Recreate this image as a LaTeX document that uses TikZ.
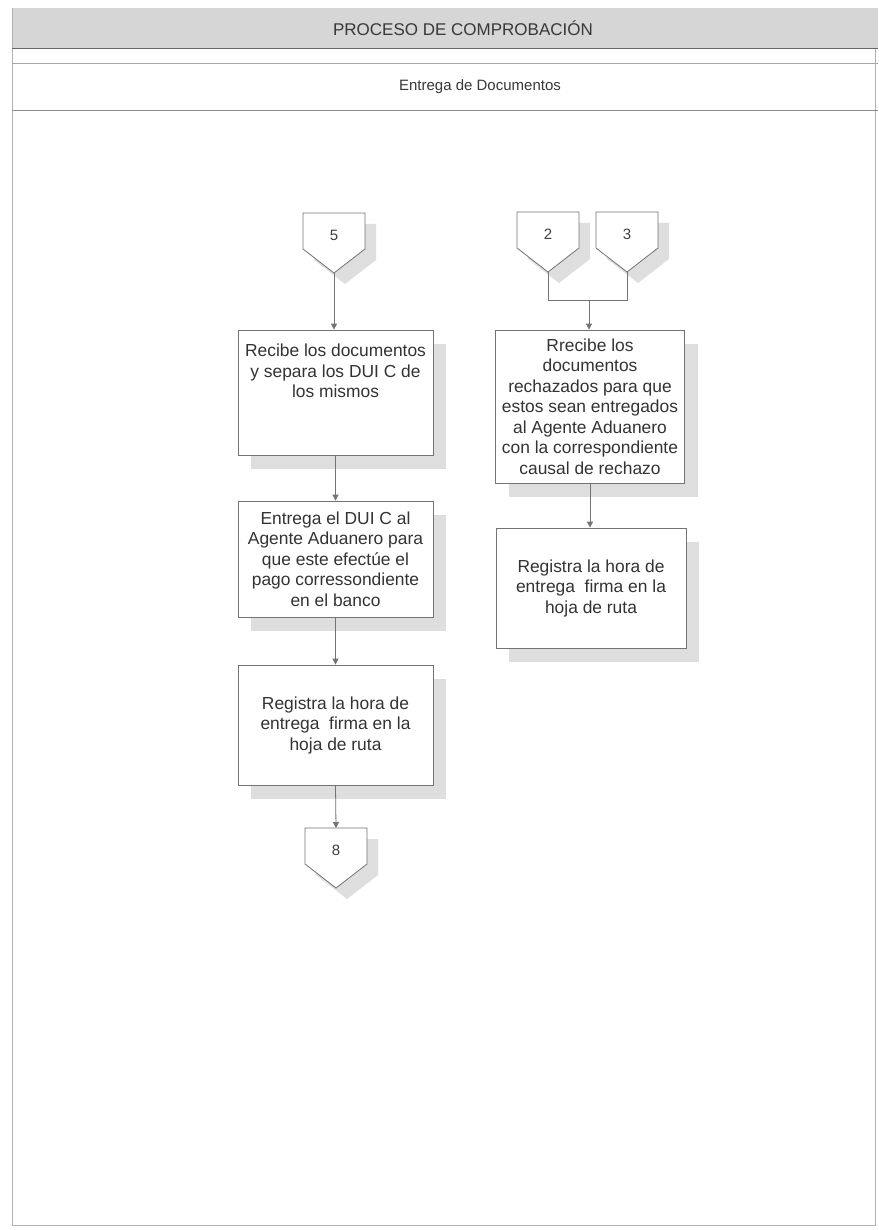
\documentclass[tikz,border=0pt]{standalone}
\usepackage{fontspec}
\setmainfont{Liberation Sans}
\usetikzlibrary{arrows.meta,shadows}
\tikzset{
  ln/.style={draw=black!55, line width=0.8pt},
  arr/.style={ln, -{Triangle[width=6pt,length=6pt]}},
  shadowc/.style={fill=black!13},
  boxtext/.style={align=center, font=\fontsize{17.4}{20.5}\selectfont, text=black!80, inner sep=0pt},
  box/.style={ln, fill=white, boxtext,
    drop shadow={shadow xshift=13pt, shadow yshift=-14pt, fill=black!13, opacity=1}},
  conn/.style={font=\fontsize{15}{18}\selectfont, text=black!75, inner sep=1pt},
  hdr/.style={text=black!78},
}
\newcommand{\offpage}[4]{%
  \fill[shadowc] (#2-31+11,#3+11) -- ++(62,0) -- ++(0,36) -- (#2+11,#3+60+11) -- (#2-31+11,#3+36+11) -- cycle;
  \filldraw[ln, fill=white] (#2-31,#3) -- ++(62,0) -- ++(0,36) -- (#2,#3+60) -- (#2-31,#3+36) -- cycle;
  \node[conn] (#1) at (#2,#3+22) {#4};
  \coordinate (#1-tip) at (#2,#3+60);
  \coordinate (#1-top) at (#2,#3);
}
\begin{document}
\begin{tikzpicture}[x=1pt,y=-1pt]
\useasboundingbox (0,0) rectangle (878,1230);
% frame and header
\fill[white] (0,0) rectangle (878,1230);
\fill[black!16] (12,8) rectangle (878,48);
\draw[black!30, line width=0.7pt] (12,8) -- (12,1225) -- (875,1225) -- (875,48);
\draw[black!60, line width=0.9pt] (12,48) -- (878,48);
\draw[black!35, line width=0.8pt] (12,63) -- (878,63);
\draw[black!45, line width=0.8pt] (12,110) -- (878,110);
\node[hdr, font=\fontsize{17}{20}\selectfont] (title) at (463,28) {PROCESO DE COMPROBACIÓN};
\node[hdr, font=\fontsize{15}{18}\selectfont] (sub) at (480,87) {Entrega de Documentos};

% off-page connectors
\offpage{c5}{334}{213}{5}
\offpage{c2}{548}{212}{2}
\offpage{c3}{627}{212}{3}
\offpage{c8}{336}{828}{8}

% left column
\node[box, minimum width=195pt, minimum height=125pt] (b1) at (335.5,392.5) {};
\node[boxtext] (b1t) at (335.5,371)
  {Recibe los documentos\\y separa los DUI C de\\los mismos};
\node[box, minimum width=195pt, minimum height=116pt] (b2) at (335.5,559)
  {Entrega el DUI C al\\Agente Aduanero para\\que este efectúe el\\pago corressondiente\\en el banco};
\node[box, minimum width=195pt, minimum height=120pt] (b3) at (335.5,725)
  {Registra la hora de\\entrega\ \ firma en la\\hoja de ruta};

% right column
\node[box, minimum width=189pt, minimum height=153pt] (r1) at (590,406.5)
  {Rrecibe los\\documentos\\rechazados para que\\estos sean entregados\\al Agente Aduanero\\con la correspondiente\\causal de rechazo};
\node[box, minimum width=190pt, minimum height=120pt] (r2) at (591,588)
  {Registra la hora de\\entrega\ \ firma en la\\hoja de ruta};

% connectors
\coordinate (j) at (589,300);
\draw[arr] (c5-tip) -- (c5-tip |- b1.north);
\draw[arr] (b1.south) -- (b2.north);
\draw[arr] (b2.south) -- (b3.north);
\draw[arr] (b3.south) -- (c8-top);
\draw[ln] (c2-tip) -- (c2-tip |- j) -- (c3-tip |- j) -- (c3-tip);
\draw[arr] (j) -- (j |- r1.north);
\draw[arr] (r1.south) -- (r1.south |- r2.north);
\end{tikzpicture}
\end{document}
